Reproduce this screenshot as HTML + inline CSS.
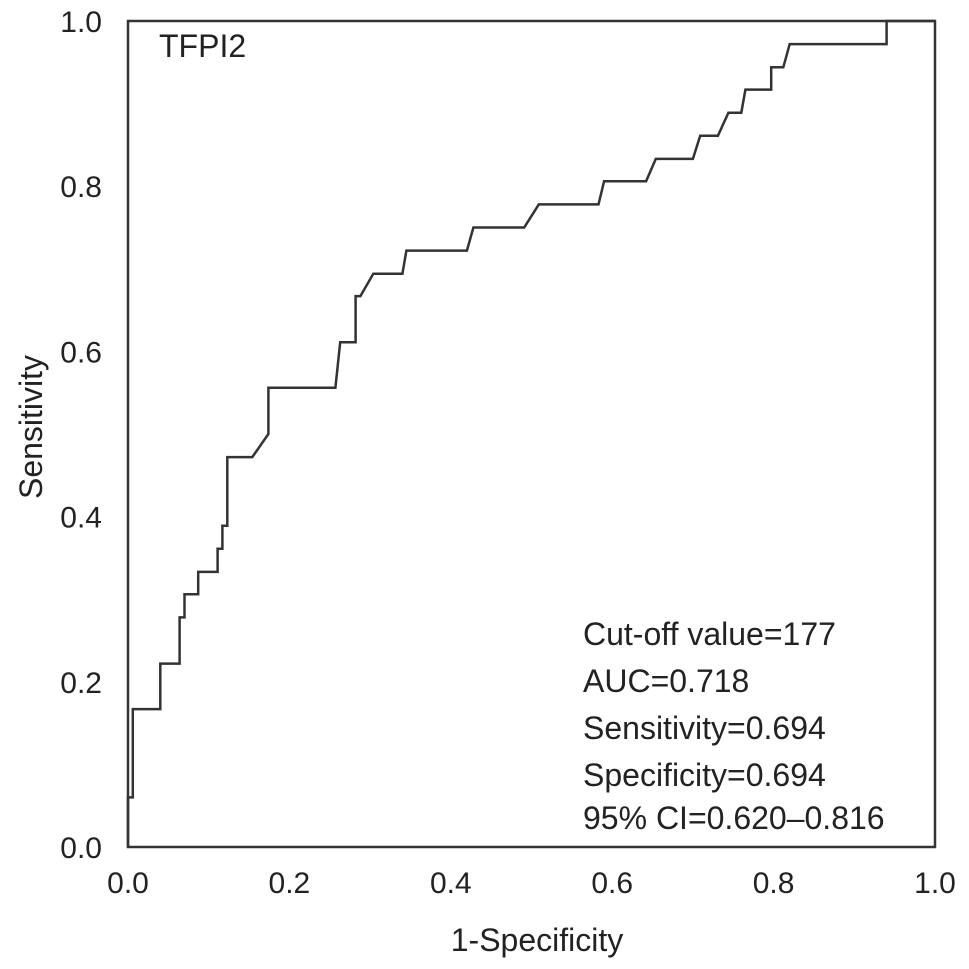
<!DOCTYPE html>
<html><head><meta charset="utf-8"><style>
html,body{margin:0;padding:0;background:#fff;}
svg{display:block;font-family:"Liberation Sans",Arial,sans-serif;}
</style></head><body>
<svg id="chart" width="969" height="969" viewBox="0 0 969 969">
<rect x="128" y="21" width="807" height="826" fill="none" stroke="#333" stroke-width="2.5"/>
<g id="xticks"></g>
<g id="yticks"></g>
<path id="roc" fill="none" stroke="#333" stroke-width="2.5" stroke-linejoin="miter"/>
<text x="159" y="57" font-size="32" fill="#222">TFPI2</text>
<g font-size="32" fill="#222">
<text x="583" y="645">Cut-off value=177</text>
<text x="583" y="692">AUC=0.718</text>
<text x="583" y="739">Sensitivity=0.694</text>
<text x="583" y="786">Specificity=0.694</text>
<text x="583" y="829">95% CI=0.620–0.816</text>
</g>
<text x="537" y="951" font-size="32" text-anchor="middle" fill="#222">1-Specificity</text>
<text transform="translate(42,427) rotate(-90)" font-size="32" text-anchor="middle" fill="#222">Sensitivity</text>
</svg>
<script>
const fpr=[0,0,0.006,0.006,0.04,0.04,0.064,0.064,0.07,0.07,0.087,0.087,0.111,0.111,0.117,0.117,0.123,0.123,0.154,0.174,0.174,0.257,0.263,0.282,0.282,0.288,0.304,0.34,0.345,0.42,0.428,0.491,0.509,0.583,0.59,0.642,0.654,0.7,0.709,0.731,0.744,0.76,0.765,0.797,0.797,0.812,0.82,0.94,0.94,1];
const tpr=[0,0.06,0.06,0.167,0.167,0.222,0.222,0.278,0.278,0.306,0.306,0.333,0.333,0.361,0.361,0.389,0.389,0.472,0.472,0.5,0.556,0.556,0.611,0.611,0.667,0.667,0.694,0.694,0.722,0.722,0.75,0.75,0.778,0.778,0.806,0.806,0.833,0.833,0.861,0.861,0.889,0.889,0.917,0.917,0.944,0.944,0.972,0.972,1,1];
const xTickLabels=["0.0","0.2","0.4","0.6","0.8","1.0"];
const yTickLabels=["0.0","0.2","0.4","0.6","0.8","1.0"];
const X0=128,X1=935,Y0=847,Y1=21;
function sx(v){return X0+v*(X1-X0);}
function sy(v){return Y0-v*(Y0-Y1);}
const NS="http://www.w3.org/2000/svg";
let d="";
for(let i=0;i<fpr.length;i++){d+=(i?"L":"M")+sx(fpr[i]).toFixed(1)+","+sy(tpr[i]).toFixed(1);}
document.getElementById("roc").setAttribute("d",d);
const xg=document.getElementById("xticks");
xTickLabels.forEach(function(l){
  const t=document.createElementNS(NS,"text");
  t.setAttribute("x",sx(parseFloat(l)));t.setAttribute("y",893);
  t.setAttribute("font-size","30");t.setAttribute("text-anchor","middle");t.setAttribute("fill","#222");
  
  
  t.textContent=l;xg.appendChild(t);
});
const yg=document.getElementById("yticks");
yTickLabels.forEach(function(l){
  const t=document.createElementNS(NS,"text");
  t.setAttribute("x",102);t.setAttribute("y",sy(parseFloat(l))+11);
  t.setAttribute("font-size","30");t.setAttribute("text-anchor","end");t.setAttribute("fill","#222");
  
  
  t.textContent=l;yg.appendChild(t);
});
</script>
</body></html>
